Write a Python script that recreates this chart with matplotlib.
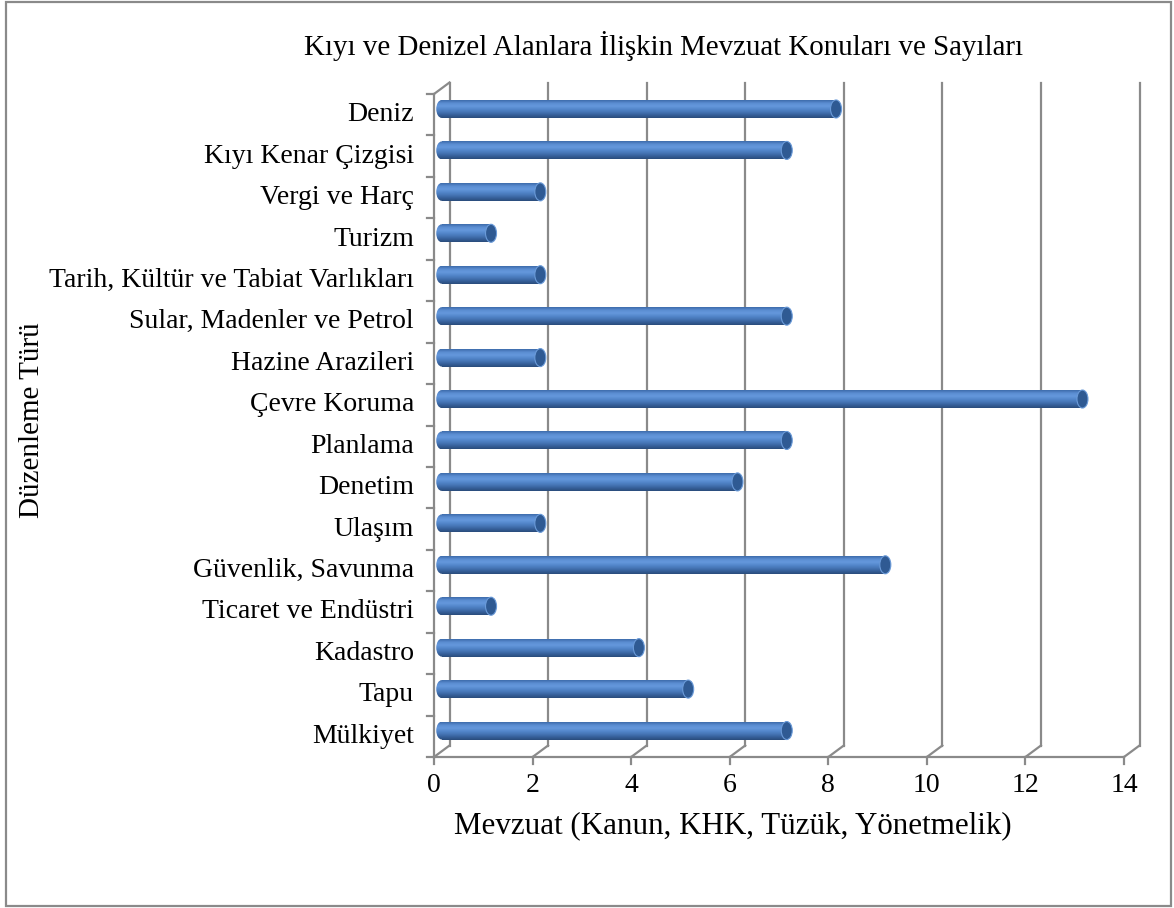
import numpy as np
import matplotlib
matplotlib.use("Agg")
import matplotlib.pyplot as plt
from matplotlib.colors import LinearSegmentedColormap
from matplotlib.patches import Ellipse, Rectangle

# data, bottom to top
categories = ["Mülkiyet", "Tapu", "Kadastro", "Ticaret ve Endüstri", "Güvenlik, Savunma",
              "Ulaşım", "Denetim", "Planlama", "Çevre Koruma", "Hazine Arazileri",
              "Sular, Madenler ve Petrol", "Tarih, Kültür ve Tabiat Varlıkları", "Turizm",
              "Vergi ve Harç", "Kıyı Kenar Çizgisi", "Deniz"]
values = [7, 5, 4, 1, 9, 2, 6, 7, 13, 2, 7, 2, 1, 2, 7, 8]
x_ticks = [0, 2, 4, 6, 8, 10, 12, 14]

title = "Kıyı ve Denizel Alanlara İlişkin Mevzuat Konuları ve Sayıları"
xlabel = "Mevzuat (Kanun, KHK, Tüzük, Yönetmelik)"
ylabel = "Düzenleme Türü"

plt.rcParams['font.family'] = ['Liberation Serif', 'DejaVu Serif']
W, H = 1174, 908
fig = plt.figure(figsize=(W / 100, H / 100), dpi=100)

# front plane of the pseudo 3d plot in pixels
x0, x1, yb, yt = 434, 1124, 757, 94
ax = fig.add_axes([x0 / W, 1 - yb / H, (x1 - x0) / W, (yb - yt) / H])
ax.set_xlim(0, 14)
ax.set_ylim(0, len(categories))
ax.axis('off')

ux = 14 / (x1 - x0)
uy = len(categories) / (yb - yt)
dxb, dyb = 15.5 * ux, 11.5 * uy  # depth offset of back wall
grid_c = '#8a8a8a'
n = len(categories)

# back wall gridlines + floor diagonals
for v in x_ticks:
    ax.plot([v + dxb, v + dxb], [dyb, n + dyb], color=grid_c, lw=1.6, clip_on=False, zorder=1)
    ax.plot([v, v + dxb], [0, dyb], color=grid_c, lw=1.6, clip_on=False, zorder=1)
    ax.plot([v, v], [0, -7 * uy], color=grid_c, lw=1.6, clip_on=False, zorder=1)
    ax.text(v, -28 * uy, str(v), ha='center', va='center', fontsize=20, clip_on=False)

# front axes
ax.plot([0, 14], [0, 0], color=grid_c, lw=1.6, clip_on=False, zorder=1)
ax.plot([0, 0], [0, n], color=grid_c, lw=1.6, clip_on=False, zorder=1)
ax.plot([0, dxb], [n, n + dyb], color=grid_c, lw=1.6, clip_on=False, zorder=1)
for i in range(n + 1):
    ax.plot([-7 * ux, 0], [i, i], color=grid_c, lw=1.6, clip_on=False, zorder=1)

# category labels
for i, c in enumerate(categories):
    ax.text(-20 * ux, i + 0.5, c, ha='right', va='center', fontsize=20, clip_on=False)

# cylinder bars in the middle plane
cmap = LinearSegmentedColormap.from_list('cyl', ['#2a4c7c', '#36609a', '#4676b6', '#5488cc',
                                                 '#6598dc', '#5a8dd2', '#3e6cab'])
grad = np.linspace(0, 1, 64).reshape(-1, 1)
bh = 18 * uy
cap = 11 * ux
xm, ym = dxb / 2, dyb / 2
ys = np.arange(n) + 0.5 + ym
bars = ax.barh(ys, values, left=xm, height=bh, color='#4f81bd', lw=0, zorder=3)
for b, yc, v in zip(bars, ys, values):
    left = Ellipse((xm, yc), cap, bh, facecolor='none', edgecolor='none')
    ax.add_patch(left)
    for clip in (b, left):
        im = ax.imshow(grad, cmap=cmap, extent=(xm - cap, xm + v, yc - bh / 2, yc + bh / 2),
                       origin='lower', aspect='auto', zorder=4)
        im.set_clip_path(clip)
    ax.add_patch(Ellipse((xm + v, yc), cap, bh, facecolor='#2f5a93', edgecolor='#6a9ad8',
                         lw=0.8, zorder=5))

ax.set_xlim(0, 14)
ax.set_ylim(0, n)

fig.text(664 / W, 1 - 46 / H, title, ha='center', va='center', fontsize=20.8)
fig.text(733 / W, 1 - 826 / H, xlabel, ha='center', va='center', fontsize=22.3)
fig.text(32 / W, 1 - 420 / H, ylabel, ha='center', va='center', rotation=90, fontsize=21)

fig.patches.append(Rectangle((6 / W, 2 / H), 1165 / W, 904 / H, transform=fig.transFigure,
                             fill=False, edgecolor='#8a8a8a', lw=1.6))

fig.savefig('out.png', dpi=100, facecolor='white')
